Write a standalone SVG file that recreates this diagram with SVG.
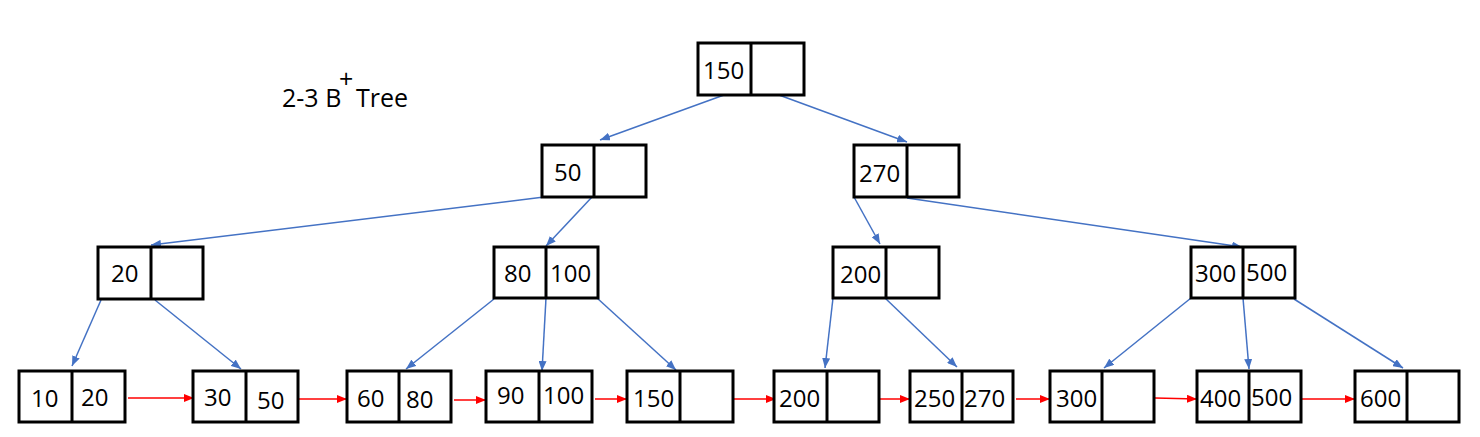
<svg xmlns="http://www.w3.org/2000/svg" width="1480" height="437" viewBox="0 0 1480 437">
<style>
.box{fill:#fff;stroke:#000;stroke-width:3}
.div{stroke:#000;stroke-width:3}
.t{font-family:"Open Sans","Liberation Sans",sans-serif;font-size:24px;fill:#000}
.tt{font-family:"Open Sans","Liberation Sans",sans-serif;font-size:25px;fill:#000}
.blue{stroke:#4472C4;stroke-width:1.5;fill:none}
.red{stroke:#FF0000;stroke-width:1.5;fill:none}
</style>
<defs>
<marker id="ab" viewBox="0 0 10 8" refX="10" refY="4" markerWidth="10" markerHeight="8" markerUnits="userSpaceOnUse" orient="auto"><path d="M0,0 L10,4 L0,8 z" fill="#4472C4"/></marker>
<marker id="ar" viewBox="0 0 10 8" refX="10" refY="4" markerWidth="10" markerHeight="8" markerUnits="userSpaceOnUse" orient="auto"><path d="M0,0 L10,4 L0,8 z" fill="#FF0000"/></marker>
</defs>
<rect width="1480" height="437" fill="#fff"/>
<g id="title">
<text class="tt" x="282" y="107">2-3 B</text>
<text class="tt" x="339" y="88">+</text>
<text class="tt" x="356" y="107">Tree</text>
</g>
<g id="connectors">
<line class="blue" x1="724" y1="95" x2="600" y2="140" marker-end="url(#ab)"/>
<line class="blue" x1="779" y1="95" x2="907" y2="142" marker-end="url(#ab)"/>
<line class="blue" x1="544" y1="197" x2="151" y2="245" marker-end="url(#ab)"/>
<line class="blue" x1="592" y1="197" x2="546" y2="246" marker-end="url(#ab)"/>
<line class="blue" x1="854" y1="197" x2="880" y2="244" marker-end="url(#ab)"/>
<line class="blue" x1="907" y1="198" x2="1242" y2="247" marker-end="url(#ab)"/>
<line class="blue" x1="101" y1="300" x2="72" y2="366" marker-end="url(#ab)"/>
<line class="blue" x1="155" y1="300" x2="241" y2="369" marker-end="url(#ab)"/>
<line class="blue" x1="494" y1="299" x2="406" y2="369" marker-end="url(#ab)"/>
<line class="blue" x1="546" y1="298" x2="542" y2="371" marker-end="url(#ab)"/>
<line class="blue" x1="597" y1="298" x2="676" y2="370" marker-end="url(#ab)"/>
<line class="blue" x1="833" y1="298" x2="825" y2="368" marker-end="url(#ab)"/>
<line class="blue" x1="885" y1="298" x2="957" y2="367" marker-end="url(#ab)"/>
<line class="blue" x1="1191" y1="298" x2="1104" y2="368" marker-end="url(#ab)"/>
<line class="blue" x1="1243" y1="298" x2="1249" y2="369" marker-end="url(#ab)"/>
<line class="blue" x1="1294" y1="299" x2="1403" y2="368" marker-end="url(#ab)"/>
<line class="red" x1="128" y1="398" x2="194" y2="398" marker-end="url(#ar)"/>
<line class="red" x1="299" y1="399" x2="347" y2="399" marker-end="url(#ar)"/>
<line class="red" x1="454" y1="400" x2="486" y2="400" marker-end="url(#ar)"/>
<line class="red" x1="595" y1="399" x2="627" y2="399" marker-end="url(#ar)"/>
<line class="red" x1="734" y1="399" x2="776" y2="399" marker-end="url(#ar)"/>
<line class="red" x1="880" y1="399" x2="910" y2="399" marker-end="url(#ar)"/>
<line class="red" x1="1016" y1="399" x2="1050" y2="399" marker-end="url(#ar)"/>
<line class="red" x1="1155" y1="398" x2="1197" y2="399" marker-end="url(#ar)"/>
<line class="red" x1="1302" y1="399" x2="1355" y2="399" marker-end="url(#ar)"/>
</g>
<g id="n150"><rect class="box" x="698" y="43" width="106" height="52"/><line class="div" x1="751" y1="43" x2="751" y2="95"/><text class="t" x="703" y="79">150</text></g>
<g id="n50"><rect class="box" x="542" y="145" width="104" height="52"/><line class="div" x1="594" y1="145" x2="594" y2="197"/><text class="t" x="554" y="181">50</text></g>
<g id="n270"><rect class="box" x="854" y="145" width="105" height="52"/><line class="div" x1="907" y1="145" x2="907" y2="197"/><text class="t" x="859" y="182">270</text></g>
<g id="n20"><rect class="box" x="98" y="247" width="105" height="52"/><line class="div" x1="151" y1="247" x2="151" y2="299"/><text class="t" x="111" y="282">20</text></g>
<g id="n80_100"><rect class="box" x="494" y="247" width="104" height="51"/><line class="div" x1="546" y1="247" x2="546" y2="298"/><text class="t" x="504" y="282">80</text><text class="t" x="550" y="282">100</text></g>
<g id="n200"><rect class="box" x="833" y="247" width="106" height="51"/><line class="div" x1="886" y1="247" x2="886" y2="298"/><text class="t" x="840" y="283">200</text></g>
<g id="n300_500"><rect class="box" x="1191" y="247" width="104" height="51"/><line class="div" x1="1243" y1="247" x2="1243" y2="298"/><text class="t" x="1195" y="282">300</text><text class="t" x="1246" y="281">500</text></g>
<g id="l10_20"><rect class="box" x="19" y="371" width="106" height="51"/><line class="div" x1="72" y1="371" x2="72" y2="422"/><text class="t" x="31" y="407">10</text><text class="t" x="81" y="406">20</text></g>
<g id="l30_50"><rect class="box" x="193" y="371" width="105" height="51"/><line class="div" x1="246" y1="371" x2="246" y2="422"/><text class="t" x="204" y="406">30</text><text class="t" x="257" y="409">50</text></g>
<g id="l60_80"><rect class="box" x="347" y="371" width="104" height="51"/><line class="div" x1="399" y1="371" x2="399" y2="422"/><text class="t" x="357" y="407">60</text><text class="t" x="406" y="408">80</text></g>
<g id="l90_100"><rect class="box" x="486" y="371" width="106" height="51"/><line class="div" x1="539" y1="371" x2="539" y2="422"/><text class="t" x="497" y="404">90</text><text class="t" x="543" y="404">100</text></g>
<g id="l150"><rect class="box" x="627" y="371" width="106" height="51"/><line class="div" x1="680" y1="371" x2="680" y2="422"/><text class="t" x="633" y="407">150</text></g>
<g id="l200"><rect class="box" x="774" y="371" width="105" height="51"/><line class="div" x1="827" y1="371" x2="827" y2="422"/><text class="t" x="779" y="407">200</text></g>
<g id="l250_270"><rect class="box" x="910" y="371" width="103" height="51"/><line class="div" x1="962" y1="371" x2="962" y2="422"/><text class="t" x="914" y="407">250</text><text class="t" x="964" y="407">270</text></g>
<g id="l300"><rect class="box" x="1050" y="371" width="104" height="51"/><line class="div" x1="1102" y1="371" x2="1102" y2="422"/><text class="t" x="1056" y="407">300</text></g>
<g id="l400_500"><rect class="box" x="1197" y="371" width="104" height="51"/><line class="div" x1="1249" y1="371" x2="1249" y2="422"/><text class="t" x="1200" y="407">400</text><text class="t" x="1251" y="406">500</text></g>
<g id="l600"><rect class="box" x="1355" y="371" width="104" height="51"/><line class="div" x1="1407" y1="371" x2="1407" y2="422"/><text class="t" x="1360" y="407">600</text></g>
</svg>
